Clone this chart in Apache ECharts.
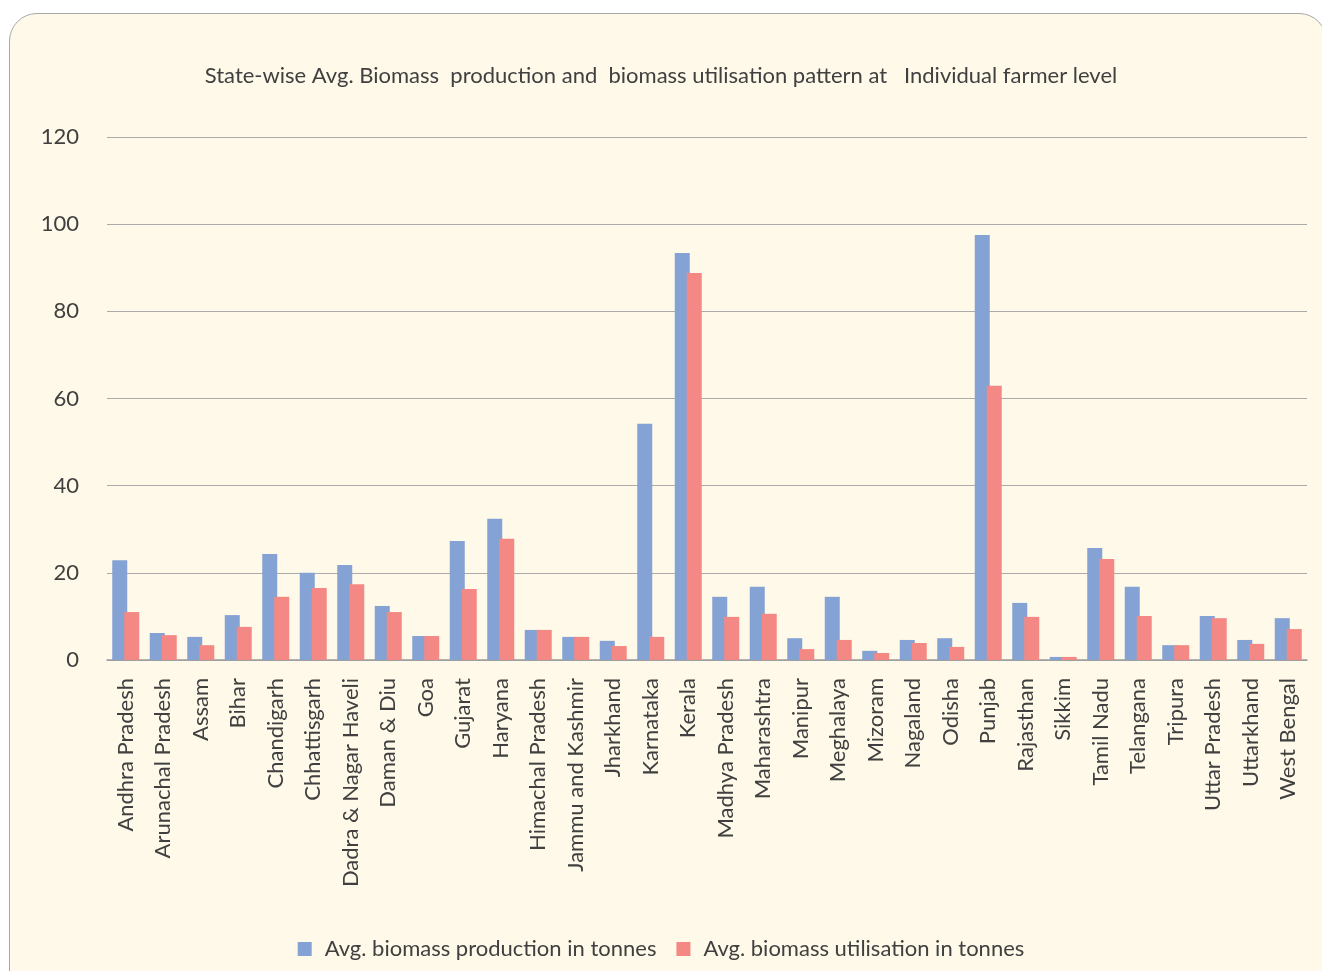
<!DOCTYPE html>
<html>
<head>
<meta charset="utf-8">
<script src="https://cdn.jsdelivr.net/npm/echarts@6/dist/echarts.min.js"></script>
<style>
html,body{margin:0;padding:0;background:#fff;width:1322px;height:971px;overflow:hidden;}
#box{position:absolute;left:9px;top:13px;width:1318px;height:990px;background:#FEF9E8;border:1px solid #A8A8A8;border-radius:28px;box-sizing:border-box;}
#chart{position:absolute;left:0;top:0;width:1322px;height:971px;}
</style>
</head>
<body>
<div id="box"></div>
<div id="chart"></div>
<script>
const categories = ["Andhra Pradesh","Arunachal Pradesh","Assam","Bihar","Chandigarh","Chhattisgarh","Dadra & Nagar Haveli","Daman & Diu","Goa","Gujarat","Haryana","Himachal Pradesh","Jammu and Kashmir","Jharkhand","Karnataka","Kerala","Madhya Pradesh","Maharashtra","Manipur","Meghalaya","Mizoram","Nagaland","Odisha","Punjab","Rajasthan","Sikkim","Tamil Nadu","Telangana","Tripura","Uttar Pradesh","Uttarkhand","West Bengal"];
const production = [22.9,6.2,5.3,10.3,24.3,20.0,21.8,12.4,5.5,27.3,32.4,6.9,5.3,4.4,54.2,93.4,14.5,16.8,5.0,14.5,2.1,4.6,5.0,97.5,13.1,0.7,25.7,16.8,3.4,10.1,4.6,9.6];
const utilisation = [11.0,5.7,3.4,7.6,14.5,16.5,17.4,11.0,5.5,16.3,27.8,6.9,5.3,3.2,5.3,88.8,9.9,10.6,2.5,4.6,1.6,3.9,3.0,62.9,9.9,0.7,23.2,10.1,3.4,9.6,3.7,7.1];
const yTicks = [0,20,40,60,80,100,120];
const seriesNames = ["Avg. biomass production in tonnes","Avg. biomass utilisation in tonnes"];

const chart = echarts.init(document.getElementById('chart'));
const font = 'Lato, "Open Sans", sans-serif';
chart.setOption({
  backgroundColor: 'transparent',
  textStyle:{fontFamily:font},
  title:{
    text:'State-wise Avg. Biomass  production and  biomass utilisation pattern at   Individual farmer level',
    left:'center', top:60,
    textStyle:{fontFamily:font,fontSize:22,fontWeight:'normal',color:'#404040'}
  },
  legend:{
    top:933, left:'center',
    itemWidth:14, itemHeight:14, itemGap:20,
    icon:'rect',
    textStyle:{fontFamily:font,fontSize:22,color:'#404040',padding:[0,0,0,8]},
    data:seriesNames
  },
  grid:{left:107, right:15, top:137, bottom:311, containLabel:false},
  xAxis:{
    type:'category',
    data:categories,
    axisLine:{lineStyle:{color:'#9C9C9C',width:1.5}},
    axisTick:{show:false},
    axisLabel:{rotate:90, interval:0, fontFamily:font, fontSize:22, color:'#404040', margin:18}
  },
  yAxis:{
    type:'value', min:yTicks[0], max:yTicks[yTicks.length-1], interval:20,
    axisLine:{show:false}, axisTick:{show:false},
    axisLabel:{fontFamily:font,fontSize:22,color:'#404040',margin:28},
    splitLine:{lineStyle:{color:'#ABABAB',width:1.2}}
  },
  series:[
    {name:seriesNames[0], type:'bar', data:production, barWidth:15, barGap:'-20%', itemStyle:{color:'#84A2D4'}},
    {name:seriesNames[1], type:'bar', data:utilisation, barWidth:15, itemStyle:{color:'#F48884'}}
  ]
});
</script>
</body>
</html>
